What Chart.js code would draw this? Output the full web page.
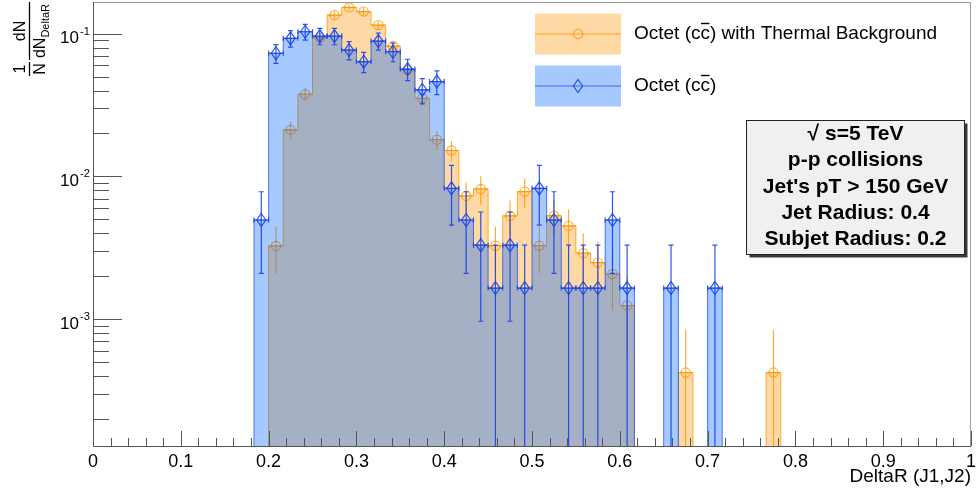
<!DOCTYPE html>
<html>
<head>
<meta charset="utf-8">
<script src="https://cdn.jsdelivr.net/npm/chart.js@4.4.1/dist/chart.umd.min.js"></script>
<style>
  html, body { margin: 0; padding: 0; background: #ffffff; }
  #wrap { width: 976px; height: 492px; position: relative; }
</style>
</head>
<body>
<div id="wrap"><canvas id="c"></canvas></div>
<script>
// DeltaR(J1,J2) histogram: 60 equal bins on [0, 1].
// Values below are normalised bin contents, listed from bin FIRST_BIN onward.
const BIN_WIDTH = 1 / 60;
const FIRST_BIN = 11;

const octetThermal = [
  0,       0.00326, 0.0212,  0.0377,  0.0938,  0.135,   0.153,   0.143,
  0.115,   0.082,   0.0557,  0.0353,  0.0181,  0.0152,  0.0073,  0.00817,
  0.00327, 0.00529, 0.00783, 0.00327, 0.00531, 0.0045,  0.0029,  0.00249,
  0.00207, 0.001245, 0,      0,       0,       0.000422, 0,      0,
  0,       0,       0,       0.000422
];
const octet = [
  0.00495, 0.0730,  0.0929,  0.1033,  0.0964,  0.0964,  0.0769,  0.0637,
  0.0889,  0.0748,  0.0566,  0.0404,  0.0462,  0.00825, 0.00495, 0.00330,
  0.00165, 0.00330, 0.00165, 0.00825, 0.00495, 0.00165, 0.00165, 0.00165,
  0.00495, 0.00165, 0,       0,       0.00165, 0,       0,       0.00165,
  0,       0,       0,       0
];
// Entries behind each normalised histogram (Poisson error bars)
const entriesThermal = 2400;
const entriesOctet = 606;

const seriesLabels = ['Octet (cc) with Thermal Background', 'Octet (cc)'];
const xTickValues = [0, 0.1, 0.2, 0.3, 0.4, 0.5, 0.6, 0.7, 0.8, 0.9, 1];
const xTickLabels = ['0', '0.1', '0.2', '0.3', '0.4', '0.5', '0.6', '0.7', '0.8', '0.9', '1'];
const yDecadeExponents = [-3, -2, -1];
const yDecadeLabels = ['-3', '-2', '-1'];
const infoLines = ['\u221A s=5 TeV', 'p-p collisions', "Jet's pT > 150 GeV", 'Jet Radius: 0.4', 'Subjet Radius: 0.2'];

const Y_MIN = 1.29e-4;
const Y_MAX = 0.167;
const FONT = '"Liberation Sans", Arial, Helvetica, sans-serif';

const ORANGE_FILL = 'rgba(255,160,30,0.40)';
const ORANGE_LINE = 'rgba(255,155,10,0.85)';
const ORANGE_MARK = 'rgba(255,150,0,0.80)';
const BLUE_FILL = 'rgba(0,100,255,0.35)';
const BLUE_LINE = 'rgba(25,80,240,0.75)';
const BLUE_MARK = 'rgba(20,65,235,0.90)';

// Outline of a histogram as a step line through the bin low edges
function stepPoints(values) {
  const FLOOR = 1e-7;
  const pts = [{ x: FIRST_BIN * BIN_WIDTH, y: FLOOR }];
  values.forEach((v, k) => pts.push({ x: (FIRST_BIN + k) * BIN_WIDTH, y: v > 0 ? v : FLOOR }));
  pts.push({ x: (FIRST_BIN + values.length) * BIN_WIDTH, y: FLOOR });
  return pts;
}

const seriesStyle = [
  { values: octetThermal, entries: entriesThermal, color: ORANGE_MARK, marker: 'circle', caps: false },
  { values: octet, entries: entriesOctet, color: BLUE_MARK, marker: 'diamond', caps: true }
];

function drawMarker(ctx, kind, x, y, color) {
  ctx.save();
  ctx.strokeStyle = color;
  ctx.lineWidth = 1.2;
  ctx.beginPath();
  if (kind === 'circle') {
    ctx.arc(x, y, 4.6, 0, Math.PI * 2);
  } else {
    ctx.moveTo(x, y - 6.5);
    ctx.lineTo(x + 4.6, y);
    ctx.lineTo(x, y + 6.5);
    ctx.lineTo(x - 4.6, y);
    ctx.closePath();
  }
  ctx.stroke();
  ctx.restore();
}

// Error bars and markers, drawn right after each histogram so the next fill lies over them
const binMarkers = {
  id: 'binMarkers',
  afterDatasetDraw(chart, args) {
    const spec = seriesStyle[args.index];
    if (!spec) return;
    const { ctx, chartArea } = chart;
    const xs = chart.scales.x, ys = chart.scales.y;
    ctx.save();
    ctx.beginPath();
    ctx.rect(chartArea.left, chartArea.top, chartArea.right - chartArea.left, chartArea.bottom - chartArea.top);
    ctx.clip();
    ctx.strokeStyle = spec.color;
    ctx.lineWidth = 1.2;
    spec.values.forEach((v, k) => {
      if (!(v > 0)) return;
      const i = FIRST_BIN + k;
      const xl = xs.getPixelForValue(i * BIN_WIDTH);
      const xr = xs.getPixelForValue((i + 1) * BIN_WIDTH);
      const xc = (xl + xr) / 2;
      const err = Math.sqrt(v / spec.entries);
      const yc = ys.getPixelForValue(v);
      const yt = ys.getPixelForValue(v + err);
      const lowOk = v - err > v * 1e-6;
      const yb = lowOk ? ys.getPixelForValue(v - err) : chartArea.bottom + 10;
      ctx.beginPath();
      ctx.moveTo(xc, yt); ctx.lineTo(xc, yb);
      ctx.moveTo(xl, yc); ctx.lineTo(xr, yc);
      if (spec.caps) {
        ctx.moveTo(xc - 2.5, yt); ctx.lineTo(xc + 2.5, yt);
        if (lowOk) { ctx.moveTo(xc - 2.5, yb); ctx.lineTo(xc + 2.5, yb); }
        ctx.moveTo(xl, yc - 2.5); ctx.lineTo(xl, yc + 2.5);
        ctx.moveTo(xr, yc - 2.5); ctx.lineTo(xr, yc + 2.5);
      }
      ctx.stroke();
      drawMarker(ctx, spec.marker, xc, yc, spec.color);
    });
    ctx.restore();
  }
};

// Text with a bar over the last "c" of "(cc)"
function drawBarredLabel(ctx, text, x, yMid) {
  ctx.fillText(text, x, yMid);
  const pre = text.slice(0, text.indexOf('cc)') + 1);
  const x0 = x + ctx.measureText(pre).width;
  const w = ctx.measureText('c').width;
  ctx.save();
  ctx.lineWidth = 1.4;
  ctx.strokeStyle = ctx.fillStyle;
  ctx.beginPath();
  ctx.moveTo(x0 + 0.5, yMid - 10.5);
  ctx.lineTo(x0 + w - 0.5, yMid - 10.5);
  ctx.stroke();
  ctx.restore();
}

const frameAndText = {
  id: 'frameAndText',
  afterDraw(chart) {
    const { ctx, chartArea } = chart;
    const xs = chart.scales.x, ys = chart.scales.y;
    const L = chartArea.left, R = chartArea.right, T = chartArea.top, B = chartArea.bottom;
    ctx.save();

    // frame
    ctx.strokeStyle = '#9a9a9a';
    ctx.lineWidth = 1;
    ctx.strokeRect(L + 0.5, T + 0.5, R - L - 1, B - T);
    ctx.strokeStyle = '#555555';
    ctx.beginPath();
    ctx.moveTo(L + 0.5, T); ctx.lineTo(L + 0.5, B + 0.5); ctx.lineTo(R, B + 0.5);
    ctx.stroke();

    // x ticks (inside), major every 0.1, minor every 0.02
    ctx.strokeStyle = '#555555';
    ctx.beginPath();
    for (let k = 0; k <= 50; k++) {
      const px = Math.round(xs.getPixelForValue(k * 0.02)) + 0.5;
      const len = (k % 5 === 0) ? 15 : 8;
      ctx.moveTo(px, B); ctx.lineTo(px, B - len);
    }
    // y ticks (inside), decades and 2..9 subdivisions
    for (let d = -4; d <= -1; d++) {
      for (let m = 1; m <= 9; m++) {
        const v = m * Math.pow(10, d);
        if (v < Y_MIN || v > Y_MAX) continue;
        const py = Math.round(ys.getPixelForValue(v)) + 0.5;
        const len = (m === 1) ? 29 : 16;
        ctx.moveTo(L, py); ctx.lineTo(L + len, py);
      }
    }
    ctx.stroke();

    // x tick labels
    ctx.fillStyle = '#000000';
    ctx.font = '18px ' + FONT;
    ctx.textAlign = 'center';
    ctx.textBaseline = 'middle';
    xTickValues.forEach((v, k) => ctx.fillText(xTickLabels[k], xs.getPixelForValue(v), B + 16));

    // x title
    ctx.textAlign = 'right';
    ctx.font = '19px ' + FONT;
    ctx.fillText('DeltaR (J1,J2)', R, B + 31);

    // y decade labels 10^n
    yDecadeExponents.forEach((e, k) => {
      const py = ys.getPixelForValue(Math.pow(10, e));
      ctx.font = '17px ' + FONT;
      ctx.textAlign = 'right';
      ctx.fillText('10', 79, py + 5);
      ctx.font = '11px ' + FONT;
      ctx.textAlign = 'left';
      ctx.fillText(yDecadeLabels[k], 80, py - 2);
    });

    // y title: 1/N dN/dN_DeltaR, rotated
    ctx.save();
    ctx.translate(29.5, 76);
    ctx.rotate(-Math.PI / 2);
    ctx.textBaseline = 'alphabetic';
    ctx.lineWidth = 1.3;
    ctx.strokeStyle = '#000000';
    ctx.beginPath();
    ctx.moveTo(0, 0); ctx.lineTo(14, 0);
    ctx.moveTo(16, 0); ctx.lineTo(74, 0);
    ctx.stroke();
    ctx.font = '16px ' + FONT;
    ctx.textAlign = 'center';
    ctx.fillText('1', 7, -5);
    ctx.fillText('N', 7, 15);
    ctx.fillText('dN', 45, -5);
    ctx.textAlign = 'left';
    const wDN = ctx.measureText('dN').width;
    ctx.font = '11px ' + FONT;
    const wSub = ctx.measureText('DeltaR').width;
    const x0 = 45 - (wDN + wSub) / 2;
    ctx.font = '16px ' + FONT;
    ctx.fillText('dN', x0, 15);
    ctx.font = '11px ' + FONT;
    ctx.fillText('DeltaR', x0 + wDN, 19);
    ctx.restore();

    // legend
    const legendRows = [
      { y: 13.5, h: 41, fill: ORANGE_FILL, line: ORANGE_LINE, mark: ORANGE_MARK, marker: 'circle' },
      { y: 65.5, h: 41, fill: BLUE_FILL, line: BLUE_LINE, mark: BLUE_MARK, marker: 'diamond' }
    ];
    legendRows.forEach((r, k) => {
      const cy = r.y + r.h / 2;
      ctx.fillStyle = r.fill;
      ctx.fillRect(535, r.y, 86, r.h);
      ctx.strokeStyle = r.line;
      ctx.lineWidth = 1.2;
      ctx.beginPath();
      ctx.moveTo(535, cy); ctx.lineTo(621, cy);
      ctx.stroke();
      drawMarker(ctx, r.marker, 578, cy, r.mark);
      ctx.fillStyle = '#000000';
      ctx.font = '19px ' + FONT;
      ctx.textAlign = 'left';
      ctx.textBaseline = 'middle';
      drawBarredLabel(ctx, seriesLabels[k], 634, cy);
    });

    // info box with shadow
    const bx = 746.5, by = 120.5, bw = 218, bh = 134;
    ctx.fillStyle = '#3a3a3a';
    ctx.fillRect(bx + 3, by + 3, bw, bh);
    ctx.fillStyle = '#f0f0f0';
    ctx.fillRect(bx, by, bw, bh);
    ctx.strokeStyle = '#222222';
    ctx.lineWidth = 1;
    ctx.strokeRect(bx, by, bw, bh);
    ctx.fillStyle = '#000000';
    ctx.font = 'bold 21px ' + FONT;
    ctx.textAlign = 'center';
    ctx.textBaseline = 'middle';
    const lineY = [134, 160.5, 187, 213, 239];
    infoLines.forEach((t, k) => ctx.fillText(t, bx + bw / 2, lineY[k]));

    ctx.restore();
  }
};

new Chart(document.getElementById('c'), {
  type: 'line',
  data: {
    datasets: [
      {
        label: seriesLabels[0],
        data: stepPoints(octetThermal),
        stepped: true,
        fill: 'start',
        backgroundColor: ORANGE_FILL,
        borderColor: ORANGE_LINE,
        borderWidth: 1,
        pointRadius: 0,
        order: 2
      },
      {
        label: seriesLabels[1],
        data: stepPoints(octet),
        stepped: true,
        fill: 'start',
        backgroundColor: BLUE_FILL,
        borderColor: BLUE_LINE,
        borderWidth: 1,
        pointRadius: 0,
        order: 1
      }
    ]
  },
  options: {
    responsive: true,
    maintainAspectRatio: false,
    animation: false,
    events: [],
    layout: { padding: { left: 93, top: 2, right: 5, bottom: 46 } },
    plugins: { legend: { display: false }, tooltip: { enabled: false }, title: { display: false } },
    scales: {
      x: {
        type: 'linear', min: 0, max: 1,
        ticks: { display: false },
        grid: { display: false, drawTicks: false },
        border: { display: false },
        title: { display: false }
      },
      y: {
        type: 'logarithmic', min: Y_MIN, max: Y_MAX,
        ticks: { display: false },
        grid: { display: false, drawTicks: false },
        border: { display: false },
        title: { display: false }
      }
    }
  },
  plugins: [binMarkers, frameAndText]
});
</script>
</body>
</html>
